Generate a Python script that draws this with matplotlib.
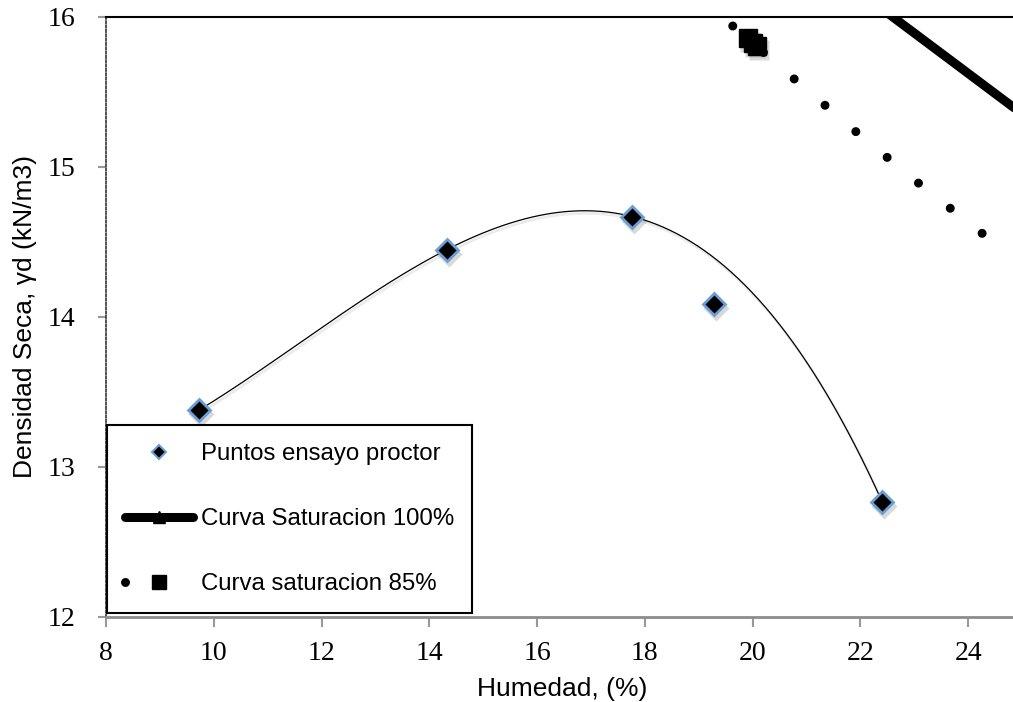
import numpy as np
import matplotlib
matplotlib.use("Agg")
import matplotlib.pyplot as plt
from matplotlib.lines import Line2D
from matplotlib.transforms import offset_copy

# ---- data ----
w_proctor = [9.73, 14.33, 17.76, 19.28, 22.40]
gd_proctor = [13.38, 14.45, 14.67, 14.09, 12.77]
trend_idx = [0, 1, 2, 4]          # points the smooth trend curve passes through

w_sat100 = [21.5, 22.6, 23.66, 24.83, 26.0]
gd_sat100 = [16.31, 16.00, 15.715, 15.40, 15.10]

w_sat85 = [19.63, 20.76, 21.90, 23.05, 24.21, 25.40]
gd_sat85 = [15.94, 15.59, 15.24, 14.90, 14.57, 14.26]
w_sat85_mk = [19.91, 20.00, 20.08]
gd_sat85_mk = [15.86, 15.83, 15.81]

xticks = [8, 10, 12, 14, 16, 18, 20, 22, 24]
yticks = [12, 13, 14, 15, 16]
labels = ["Puntos ensayo proctor", "Curva Saturacion 100%", "Curva saturacion 85%"]
xlabel = "Humedad, (%)"
ylabel = "Densidad Seca, γd (kN/m3)"

plt.rcParams['font.family'] = ['Liberation Sans', 'DejaVu Sans']

fig = plt.figure(figsize=(10.13, 7.02), dpi=100)
ax = fig.add_axes([106/1013, 85/702, 907/1013, 600/702])
ax.set_xlim(8, 24.83)
ax.set_ylim(12, 16)

# trend curve (cubic through the selected points)
tx = np.array([w_proctor[i] for i in trend_idx])
ty = np.array([gd_proctor[i] for i in trend_idx])
coef = np.polyfit(tx, ty, 3)
xs = np.linspace(tx.min(), tx.max(), 300)
ys = np.polyval(coef, xs)
shadow_tr = offset_copy(ax.transData, fig=fig, x=1.5, y=-2.5, units='dots')
ax.plot(xs, ys, color='#000000', lw=2.0, alpha=0.08, transform=shadow_tr, zorder=2)
ax.plot(xs, ys, color='black', lw=0.9, zorder=3)

# saturation 100%
ax.plot(w_sat100, gd_sat100, color='black', lw=6.5, solid_capstyle='round',
        solid_joinstyle='round', zorder=3)

# saturation 85% dotted
ax.plot(w_sat85, gd_sat85, color='black', lw=6.5, linestyle=(0, (0.001, 4.49)),
        dash_capstyle='round', zorder=3)
shadow_mk = offset_copy(ax.transData, fig=fig, x=2, y=-4, units='dots')
ax.plot(w_sat85_mk, gd_sat85_mk, ls='none', marker='s', ms=14, mfc='#000000',
        mec='none', alpha=0.15, transform=shadow_mk, zorder=3)
ax.plot(w_sat85_mk, gd_sat85_mk, ls='none', marker='s', ms=13, mfc='black',
        mec='black', zorder=4)

# proctor points
ax.plot(w_proctor, gd_proctor, ls='none', marker='D', ms=13, mfc='#000000',
        mec='none', alpha=0.15, transform=shadow_mk, zorder=4)
ax.plot(w_proctor, gd_proctor, ls='none', marker='D', ms=11.5, mfc='black',
        mec='#6A9FD3', mew=2, zorder=5)

# axes styling
ax.set_xticks(xticks)
ax.set_yticks(yticks)
ax.set_xticklabels([str(t) for t in xticks])
ax.set_yticklabels([str(t) for t in yticks])
ax.tick_params(axis='both', labelsize=20, labelfontfamily='Liberation Serif')
ax.tick_params(axis='x', direction='out', length=7, width=1.5, color='#999999', pad=10)
ax.tick_params(axis='y', direction='out', length=6, width=1.5, color='#999999', pad=16)

ax.spines['right'].set_visible(False)
ax.spines['top'].set_color('black')
ax.spines['top'].set_linewidth(1.5)
ax.spines['bottom'].set_color('#8c8c8c')
ax.spines['bottom'].set_linewidth(2)
ax.spines['left'].set_color('#444444')
ax.spines['left'].set_linewidth(1.3)
ax.spines['left'].set_linestyle((0, (1.2, 1.2)))

ax.set_xlabel(xlabel, fontsize=19)
ax.set_ylabel(ylabel, fontsize=19)
ax.xaxis.set_label_coords(0.503, -0.100)
ax.yaxis.set_label_coords(-0.076, 0.5)

# legend
h1 = Line2D([], [], ls='none', marker='D', ms=7, mfc='black', mec='#6A9FD3', mew=1.5)
h2 = Line2D([], [], color='black', lw=6.5, solid_capstyle='round', marker='^',
            ms=9, mfc='black', mec='black')
h3 = Line2D([], [], color='black', lw=6.5, linestyle=(0, (0.001, 8)),
            dash_capstyle='round', marker='s', ms=9.5, mfc='black', mec='black')
leg = ax.legend([h1, h2, h3], labels, loc='lower left',
                bbox_to_anchor=(0.001, 0.0067), borderaxespad=0, fontsize=17.3,
                frameon=True, fancybox=False, edgecolor='black', framealpha=1,
                handlelength=2.85, handletextpad=0.3, borderpad=0.75,
                labelspacing=1.78, numpoints=1)
leg.get_frame().set_linewidth(1.5)
leg.set_zorder(6)

fig.savefig("out.png", dpi=100)
